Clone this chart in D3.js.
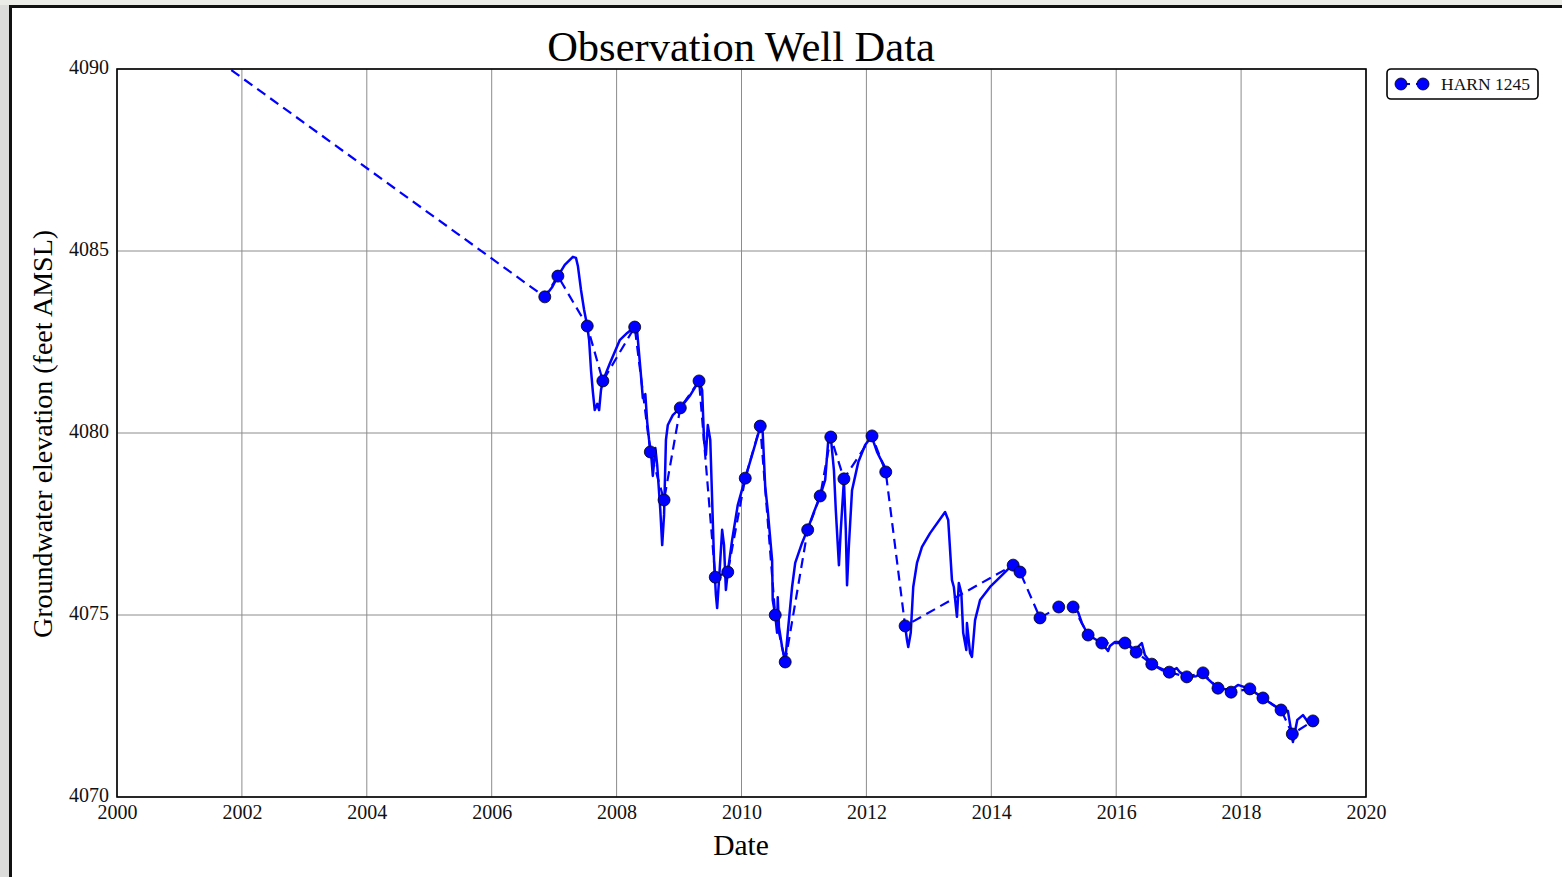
<!DOCTYPE html>
<html><head><meta charset="utf-8">
<script src="https://cdn.jsdelivr.net/npm/d3@7"></script>
<style>html,body{margin:0;padding:0;background:#fff;overflow:hidden}</style>
</head><body>
<script>
// ---- data ----
const xTicks = [2000,2002,2004,2006,2008,2010,2012,2014,2016,2018,2020];
const yTicks = [4070,4075,4080,4085,4090];
const seriesName = "HARN 1245";
// manual measurements (markers + dashed line); first point lies above the plotted range
const markerYears = [2001.0,2006.85,2007.06,2007.53,2007.78,2008.29,2008.54,2008.76,2009.02,2009.32,2009.58,2009.78,2010.06,2010.30,2010.54,2010.70,2011.06,2011.26,2011.43,2011.64,2012.09,2012.31,2012.62,2014.35,2014.46,2014.78,2015.08,2015.31,2015.55,2015.77,2016.14,2016.32,2016.57,2016.85,2017.13,2017.39,2017.63,2017.84,2018.14,2018.35,2018.64,2018.82,2019.15];
const markerLevels = [4091.0,4083.74,4084.31,4082.94,4081.43,4082.91,4079.48,4078.16,4080.69,4081.43,4076.04,4076.18,4078.76,4080.19,4075.00,4073.71,4077.34,4078.27,4079.89,4078.74,4079.92,4078.93,4074.70,4076.37,4076.18,4074.92,4075.22,4075.22,4074.45,4074.23,4074.23,4073.98,4073.65,4073.43,4073.30,4073.41,4072.99,4072.88,4072.97,4072.72,4072.39,4071.73,4072.09];
// continuous record (solid line); null = gap in record
const solidYears = [2006.85,2006.97,2007.06,2007.17,2007.30,2007.35,2007.38,2007.43,2007.48,2007.53,2007.56,2007.59,2007.62,2007.65,2007.69,2007.72,2007.75,2007.78,2007.89,2008.05,2008.17,2008.29,2008.33,2008.38,2008.42,2008.46,2008.49,2008.52,2008.55,2008.58,2008.62,2008.65,2008.70,2008.73,2008.76,2008.79,2008.82,2008.90,2009.02,2009.18,2009.32,2009.37,2009.40,2009.43,2009.46,2009.50,2009.53,2009.56,2009.59,2009.61,2009.64,2009.69,2009.72,2009.75,2009.78,2009.85,2009.94,2010.06,2010.17,2010.31,2010.34,2010.38,2010.42,2010.49,2010.50,2010.54,2010.57,2010.58,2010.60,2010.65,2010.70,2010.74,2010.81,2010.86,2010.97,2011.06,2011.16,2011.26,2011.34,2011.39,2011.43,2011.48,2011.51,2011.56,2011.59,2011.64,2011.67,2011.69,2011.72,2011.77,2011.87,2011.98,2012.09,2012.12,2012.17,2012.22,2012.28,2012.31,
 null,
 2012.62,2012.65,2012.67,2012.71,2012.75,2012.81,2012.89,2013.02,2013.26,2013.31,2013.37,2013.40,2013.45,2013.48,2013.52,2013.55,2013.60,2013.61,2013.66,2013.69,2013.74,2013.82,2013.98,2014.14,2014.35,
 null,
 2015.31,2015.39,2015.45,2015.55,2015.77,2015.87,2015.90,2015.98,2016.14,2016.30,2016.41,2016.46,2016.57,2016.73,2016.85,2016.97,2017.02,2017.13,2017.28,2017.39,2017.45,2017.63,2017.84,2017.95,2018.14,2018.35,2018.51,2018.64,2018.75,2018.83,2018.90,2018.99,2019.07,2019.15];
const solidLevels = [4083.74,4084.01,4084.31,4084.62,4084.84,4084.81,4084.59,4083.93,4083.38,4082.94,4082.55,4081.73,4081.13,4080.63,4080.80,4080.63,4081.18,4081.43,4081.90,4082.55,4082.75,4082.91,4082.77,4081.79,4080.96,4081.07,4080.30,4079.81,4079.48,4078.82,4079.59,4079.12,4077.88,4076.92,4077.75,4079.81,4080.22,4080.49,4080.69,4081.04,4081.43,4081.18,4079.81,4079.40,4080.22,4079.81,4078.16,4076.51,4075.55,4075.19,4075.96,4077.34,4076.92,4075.69,4076.18,4077.06,4078.02,4078.76,4079.40,4080.22,4080.00,4078.52,4077.88,4076.51,4075.41,4075.00,4074.51,4075.49,4074.67,4074.12,4073.71,4074.51,4075.77,4076.43,4076.98,4077.36,4077.83,4078.27,4078.71,4079.81,4079.89,4078.98,4077.88,4076.37,4077.34,4078.71,4077.34,4075.82,4076.92,4078.43,4079.20,4079.67,4079.92,4079.73,4079.48,4079.31,4079.12,4078.93,
 null,
 4074.70,4074.31,4074.12,4074.51,4075.77,4076.43,4076.87,4077.25,4077.83,4077.61,4075.96,4075.77,4074.95,4075.88,4075.60,4074.51,4074.04,4074.78,4073.96,4073.85,4074.86,4075.41,4075.77,4076.04,4076.40,
 null,
 4075.22,4075.08,4074.78,4074.45,4074.23,4074.01,4074.15,4074.26,4074.26,4074.04,4074.23,4073.90,4073.65,4073.49,4073.43,4073.54,4073.43,4073.30,4073.32,4073.41,4073.27,4072.99,4072.94,4073.08,4072.97,4072.72,4072.53,4072.39,4072.36,4071.51,4072.12,4072.25,4072.06,4072.09];

// ---- drawing ----
const W = 1562, H = 877;
const svg = d3.select("body").append("svg").attr("width", W).attr("height", H);
const serif = "'Liberation Serif','Times New Roman',Times,serif";

// page frame
svg.append("rect").attr("width", W).attr("height", H).attr("fill", "#dcdcda");
svg.append("rect").attr("x", 0).attr("y", 0).attr("width", W).attr("height", 5).attr("fill", "#ebebe8");
svg.append("rect").attr("x", 9).attr("y", 5).attr("width", W - 9).attr("height", H - 5).attr("fill", "#111");
svg.append("rect").attr("x", 12).attr("y", 8).attr("width", W - 12).attr("height", H - 8).attr("fill", "#fff");

const x = d3.scaleLinear().domain([2000, 2020]).range([117, 1366]);
const y = d3.scaleLinear().domain([4070, 4090]).range([797, 69]);

// grid
const g = svg.append("g");
g.selectAll(".gx").data(xTicks).join("line")
  .attr("x1", d => x(d)).attr("x2", d => x(d)).attr("y1", y(4070)).attr("y2", y(4090))
  .attr("stroke", "#8c8c8c").attr("stroke-width", 1);
g.selectAll(".gy").data(yTicks).join("line")
  .attr("y1", d => y(d)).attr("y2", d => y(d)).attr("x1", x(2000)).attr("x2", x(2020))
  .attr("stroke", "#8c8c8c").attr("stroke-width", 1);

// axes
const xAxis = d3.axisBottom(x).tickValues(xTicks).tickFormat(d3.format("d")).tickSize(0).tickPadding(8);
const yAxis = d3.axisLeft(y).tickValues(yTicks).tickFormat(d3.format("d")).tickSize(0).tickPadding(8);
const gx = svg.append("g").attr("transform", `translate(0,${y(4070)})`).call(xAxis);
const gy = svg.append("g").attr("transform", `translate(${x(2000)},0)`).call(yAxis);
[gx, gy].forEach(a => {
  a.select(".domain").remove();
  a.selectAll("text").attr("font-family", serif).attr("font-size", 20).attr("fill", "#111");
});
gy.selectAll("text").attr("dy", "0.2em");

// clip
svg.append("clipPath").attr("id", "clip").append("rect")
  .attr("x", x(2000)).attr("y", y(4090)).attr("width", x(2020) - x(2000)).attr("height", y(4070) - y(4090));

const plot = svg.append("g").attr("clip-path", "url(#clip)");
const solid = solidYears.map((t, i) => [t, solidLevels[i]]);
const marks = markerYears.map((t, i) => [t, markerLevels[i]]);
const line = d3.line().defined(d => d[0] != null && d[1] != null).x(d => x(d[0])).y(d => y(d[1]));

plot.append("path").datum(marks).attr("d", line).attr("fill", "none")
  .attr("stroke", "#0000ff").attr("stroke-width", 2.2).attr("stroke-dasharray", "10,6");
plot.append("path").datum(solid).attr("d", line).attr("fill", "none")
  .attr("stroke", "#0000ff").attr("stroke-width", 2.5).attr("stroke-linejoin", "round");
plot.selectAll("circle").data(marks).join("circle")
  .attr("cx", d => x(d[0])).attr("cy", d => y(d[1])).attr("r", 6)
  .attr("fill", "#0000ff").attr("stroke", "#000").attr("stroke-width", 0.8);

// frame
svg.append("rect").attr("x", x(2000)).attr("y", y(4090)).attr("width", x(2020) - x(2000)).attr("height", y(4070) - y(4090))
  .attr("fill", "none").attr("stroke", "#000").attr("stroke-width", 1.6);

// titles
svg.append("text").attr("x", 741).attr("y", 61).attr("text-anchor", "middle")
  .attr("font-family", serif).attr("font-size", 42.5).attr("fill", "#000").text("Observation Well Data");
svg.append("text").attr("x", 741).attr("y", 855).attr("text-anchor", "middle")
  .attr("font-family", serif).attr("font-size", 29.5).attr("fill", "#000").text("Date");
svg.append("text").attr("transform", "translate(52,434) rotate(-90)").attr("text-anchor", "middle")
  .attr("font-family", serif).attr("font-size", 28).attr("fill", "#000").text("Groundwater elevation (feet AMSL)");

// legend
const lg = svg.append("g");
lg.append("rect").attr("x", 1387).attr("y", 69).attr("width", 151).attr("height", 30).attr("rx", 4)
  .attr("fill", "#fff").attr("stroke", "#000").attr("stroke-width", 1.6);
lg.append("line").attr("x1", 1401).attr("x2", 1423).attr("y1", 84).attr("y2", 84)
  .attr("stroke", "#0000ff").attr("stroke-width", 2).attr("stroke-dasharray", "9,6");
lg.selectAll("circle").data([1401, 1423]).join("circle").attr("cx", d => d).attr("cy", 84).attr("r", 6)
  .attr("fill", "#0000ff").attr("stroke", "#000").attr("stroke-width", 0.8);
lg.append("text").attr("x", 1441).attr("y", 90).attr("font-family", serif).attr("font-size", 17.5)
  .attr("fill", "#111").text(seriesName);
</script>
</body></html>
